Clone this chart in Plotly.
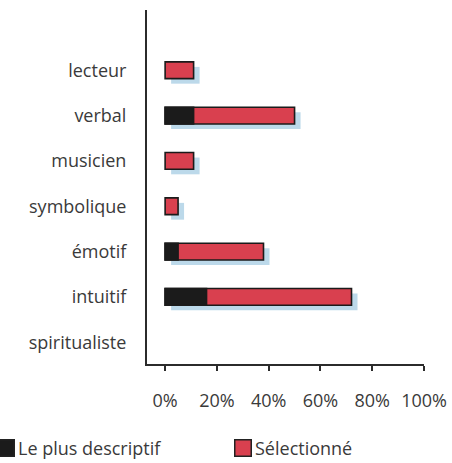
import plotly.graph_objects as go

# Categories, top to bottom
categories = ["lecteur", "verbal", "musicien", "symbolique", "émotif", "intuitif", "spiritualiste"]
# Share (%) naming the style as the most descriptive
plus_descriptif = [0, 11, 0, 0, 5, 16, 0]
# Share (%) selecting the style
selectionne = [11, 50, 11, 5, 38, 72, 0]
tick_values = [0, 20, 40, 60, 80, 100]
tick_labels = ["0%", "20%", "40%", "60%", "80%", "100%"]

TEXT = "#3a3a3a"
RED = "#d9404f"
BLACK = "#1b1b1b"
SHADOW = "#bcd9ea"
AXIS = "#2b2b2b"
FONT = "Open Sans"
FONT_SIZE = 18

W, H = 452, 463
ML, MR, MT, MB = 147, 28, 10, 99
X_RANGE = [-7, 100]
Y_RANGE = [6.48, -1.33]          # reversed: first category at top
BAR_W = 0.37
EDGE = 1.6

plot_w = W - ML - MR
plot_h = H - MT - MB
px_per_x = plot_w / (X_RANGE[1] - X_RANGE[0])
px_per_y = plot_h / (Y_RANGE[0] - Y_RANGE[1])
shadow_dx = 6 / px_per_x          # drop shadow offset, right
shadow_dy = 5 / px_per_y          # drop shadow offset, down


def edges(values):
    # no outline on empty bars
    return [EDGE if v > 0 else 0 for v in values]


fig = go.Figure()

# soft blue drop shadow behind each bar
fig.add_trace(go.Bar(
    y=categories, x=selectionne, base=shadow_dx, orientation="h",
    width=BAR_W, offset=-BAR_W / 2 + shadow_dy,
    marker=dict(color=SHADOW, line=dict(width=0)),
    showlegend=False, hoverinfo="skip",
))
fig.add_trace(go.Bar(
    y=categories, x=selectionne, base=0, orientation="h", width=BAR_W,
    name="Sélectionné", showlegend=False,
    marker=dict(color=RED, line=dict(color=BLACK, width=edges(selectionne))),
))
fig.add_trace(go.Bar(
    y=categories, x=plus_descriptif, base=0, orientation="h", width=BAR_W,
    name="Le plus descriptif", showlegend=False,
    marker=dict(color=BLACK, line=dict(color=BLACK, width=edges(plus_descriptif))),
))

# legend row below the axis: coloured square followed by its label
legend_items = [("Le plus descriptif", BLACK, -3), ("Sélectionné", RED, 234)]
legend_y = 448                     # pixel row of the legend, from top
SQ = 18
shapes, annotations = [], []
for label, color, left_px in legend_items:
    xa = (left_px - ML) / plot_w
    ya = (H - MB - legend_y) / plot_h
    shapes.append(dict(
        type="rect", xref="paper", yref="paper",
        xsizemode="pixel", ysizemode="pixel", xanchor=xa, yanchor=ya,
        x0=0.75, x1=SQ - 0.75, y0=-SQ / 2 + 0.75, y1=SQ / 2 - 0.75,
        fillcolor=color, line=dict(color="#222222", width=1.5),
    ))
    annotations.append(dict(
        text=label, xref="paper", yref="paper",
        x=(left_px + SQ + 1 - ML) / plot_w, y=ya,
        xanchor="left", yanchor="middle", showarrow=False,
        font=dict(size=FONT_SIZE, color=TEXT),
    ))

fig.update_layout(
    width=W, height=H,
    margin=dict(l=ML, r=MR, t=MT, b=MB, autoexpand=False),
    paper_bgcolor="white", plot_bgcolor="white",
    barmode="overlay",
    font=dict(family=FONT, size=FONT_SIZE, color=TEXT),
    showlegend=False,
    shapes=shapes, annotations=annotations,
    xaxis=dict(
        range=X_RANGE, tickvals=tick_values, ticktext=tick_labels,
        showgrid=False, zeroline=False,
        showline=True, linecolor=AXIS, linewidth=2,
        ticks="outside", ticklen=5, tickwidth=2, tickcolor=AXIS,
        ticklabelstandoff=14,
    ),
    yaxis=dict(
        range=Y_RANGE, type="category",
        showgrid=False, zeroline=False,
        showline=True, linecolor=AXIS, linewidth=2,
        ticks="", ticklabelstandoff=15,
    ),
)

fig.write_html("out.html")
